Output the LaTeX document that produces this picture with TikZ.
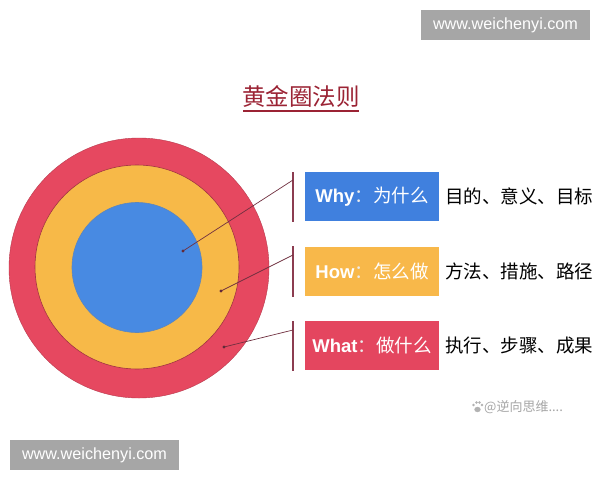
\documentclass[tikz,border=0pt]{standalone}
\usepackage{fontspec}
\setmainfont{Liberation Sans}
\newfontfamily\cjk{Noto Sans CJK SC}
\definecolor{cred}{RGB}{230,72,96}
\definecolor{cyel}{RGB}{247,185,72}
\definecolor{cblu}{RGB}{72,138,226}
\definecolor{bblu}{RGB}{64,128,222}
\definecolor{byel}{RGB}{248,184,74}
\definecolor{bred}{RGB}{228,70,95}
\definecolor{ctitle}{RGB}{155,35,52}
\definecolor{cline}{RGB}{140,60,80}
\definecolor{cwm}{RGB}{166,166,166}
\newcommand{\boxtext}[2]{{\bfseries #1}{\cjk\color{white!92!black}：}{\cjk #2}}
\begin{document}
\begin{tikzpicture}[x=1pt,y=-1pt,
  box/.style={minimum width=134pt,minimum height=49pt,inner sep=0pt,text=white,
    font=\fontsize{18.5}{20}\selectfont},
  desc/.style={anchor=west,inner sep=0pt,text=black,font=\cjk\fontsize{18.5}{20}\selectfont},
  vline/.style={draw=cline,line width=1.2pt},
  conn/.style={draw=cline!80!black,line width=0.7pt},
  wm/.style={fill=cwm,text=white,minimum width=169pt,minimum height=30pt,inner sep=0pt,
    font=\fontsize{16.2}{18}\selectfont}]
\useasboundingbox (0,0) rectangle (600,480);
\fill[white] (0,0) rectangle (600,480);
% watermarks
\node[wm] (wmtop) at (505.5,25) {www.weichenyi.com};
\node[wm] (wmbot) at (94.5,455) {www.weichenyi.com};
% title
\node[text=ctitle,inner sep=0pt,font=\cjk\fontsize{23.5}{25}\selectfont] (title) at (301,96) {黄金圈法则};
\draw[ctitle,line width=1.3pt] (243,111) -- (359,111);
% circles
\fill[cred] (139,268) circle (130);
\draw[cred!80!black,line width=0.4pt] (139,268) circle (130);
\fill[cyel] (137,267) circle (102);
\draw[cred!70!black,line width=0.6pt] (137,267) circle (102);
\fill[cblu] (137,267.5) circle (65);
\draw[cblu!60!gray,line width=0.6pt] (137,267.5) circle (65);
% boxes
\node[box,fill=bblu] (why) at (372,196.5) {\boxtext{Why}{为什么}};
\node[box,fill=byel] (how) at (372,271) {\boxtext{How}{怎么做}};
\node[box,fill=bred] (what) at (372,345.5) {\boxtext{What}{做什么}};
\node[desc] (whyd) at (445,196.5) {目的、意义、目标};
\node[desc] (howd) at (445,271) {方法、措施、路径};
\node[desc] (whatd) at (445,345.5) {执行、步骤、成果};
% vertical lines
\coordinate (v1a) at (293,172); \coordinate (v1b) at (293,222);
\coordinate (v2a) at (293,246); \coordinate (v2b) at (293,297);
\coordinate (v3a) at (293,321); \coordinate (v3b) at (293,371);
\draw[vline] (v1a) -- (v1b);
\draw[vline] (v2a) -- (v2b);
\draw[vline] (v3a) -- (v3b);
% connectors
\coordinate (p1) at (183,251); \coordinate (q1) at (293,180);
\coordinate (p2) at (221,291); \coordinate (q2) at (293,255);
\coordinate (p3) at (224,347); \coordinate (q3) at (293,330);
\draw[conn] (p1) -- (q1);
\draw[conn] (p2) -- (q2);
\draw[conn] (p3) -- (q3);
\fill[cline!70!black] (p1) circle (1.6);
\fill[cline!70!black] (p2) circle (1.6);
\fill[cline!70!black] (p3) circle (1.6);
% small watermark
\begin{scope}[black!30]
\fill (477.5,409.5) ellipse (3.2 and 2.6);
\fill (473.5,405) circle (1.3);
\fill (476.5,402.5) circle (1.3);
\fill (479.5,402.5) circle (1.3);
\fill (482,405) circle (1.3);
\end{scope}
\node[anchor=west,inner sep=0pt,text=black!35,font=\cjk\fontsize{13}{14}\selectfont] (wmsmall) at (484,407) {@逆向思维....};
\end{tikzpicture}
\end{document}
